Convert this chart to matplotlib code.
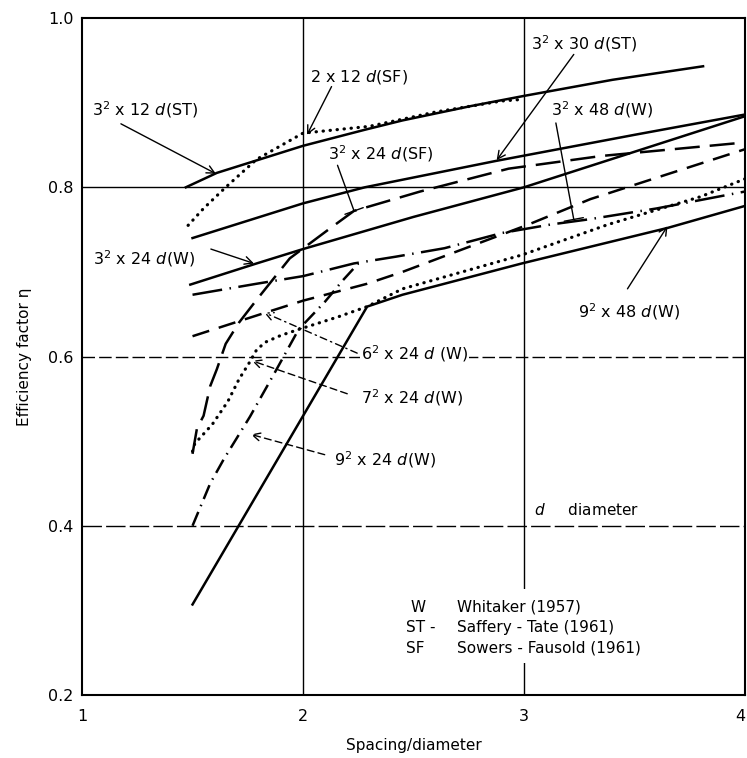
import matplotlib
matplotlib.use("Agg")
import matplotlib.pyplot as plt
from matplotlib.patches import Rectangle

plt.rcParams['font.family'] = ['DejaVu Sans']
plt.rcParams['mathtext.fontset'] = 'dejavusans'

# ---------------- data ----------------
x_st12 = [1.47, 1.61, 2.0, 2.28, 2.45, 2.76, 3.0, 3.4, 3.81]
y_st12 = [0.800, 0.817, 0.849, 0.868, 0.879, 0.896, 0.908, 0.927, 0.943]

x_sf2x12 = [1.48, 1.55, 1.65, 1.79, 2.0, 2.15, 2.3, 2.6, 2.9, 3.0]
y_sf2x12 = [0.755, 0.775, 0.800, 0.833, 0.864, 0.868, 0.872, 0.889, 0.902, 0.904]

x_st30 = [1.5, 2.0, 2.28, 2.87, 3.5, 4.0]
y_st30 = [0.740, 0.781, 0.800, 0.831, 0.862, 0.886]

x_w3x24 = [1.49, 1.79, 2.0, 2.5, 3.0, 3.5, 4.0]
y_w3x24 = [0.685, 0.710, 0.727, 0.765, 0.800, 0.842, 0.884]

x_sf3x24 = [1.5, 1.52, 1.55, 1.58, 1.61, 1.65, 1.71, 1.79, 1.94, 2.12, 2.23, 2.53, 2.93, 3.35, 4.0]
y_sf3x24 = [0.485, 0.515, 0.530, 0.565, 0.585, 0.615, 0.640, 0.667, 0.716, 0.751, 0.772, 0.795, 0.822, 0.837, 0.853]

x_w6x24 = [1.5, 1.82, 2.0, 2.29, 2.45, 3.02, 3.30, 3.62, 4.0]
y_w6x24 = [0.624, 0.651, 0.666, 0.686, 0.700, 0.756, 0.786, 0.813, 0.845]

x_w7x24 = [1.5, 1.51, 1.59, 1.66, 1.71, 1.76, 1.79, 1.83, 1.90, 1.98, 2.16, 2.29, 2.45, 2.99, 3.38, 3.8, 4.0]
y_w7x24 = [0.488, 0.497, 0.520, 0.547, 0.573, 0.594, 0.608, 0.617, 0.625, 0.632, 0.647, 0.659, 0.680, 0.720, 0.756, 0.789, 0.810]

x_w9x24 = [1.5, 1.58, 1.64, 1.76, 1.87, 1.98, 2.10, 2.18, 2.25]
y_w9x24 = [0.400, 0.450, 0.478, 0.529, 0.580, 0.632, 0.665, 0.690, 0.710]

x_w3x48 = [1.5, 1.79, 2.0, 2.23, 2.42, 2.64, 2.90, 3.12, 3.29, 3.6, 4.0]
y_w3x48 = [0.673, 0.686, 0.695, 0.710, 0.718, 0.728, 0.746, 0.756, 0.762, 0.775, 0.795]

x_w9x48 = [1.5, 2.29, 2.45, 2.99, 3.65, 4.0]
y_w9x48 = [0.307, 0.659, 0.673, 0.710, 0.752, 0.778]

x_ticks = [1, 2, 3, 4]
x_ticklabels = ['1', '2', '3', '4']
y_ticks = [0.2, 0.4, 0.6, 0.8, 1.0]
y_ticklabels = ['0.2', '0.4', '0.6', '0.8', '1.0']

legend_codes = ['W', 'ST -', 'SF']
legend_names = ['Whitaker (1957)', 'Saffery - Tate (1961)', 'Sowers - Fausold (1961)']

# ---------------- figure ----------------
fig = plt.figure(figsize=(7.47, 7.58), dpi=100)
ax = fig.add_axes([0.1098, 0.0831, 0.8876, 0.8931])
ax.set_xlim(1, 4)
ax.set_ylim(0.2, 1.0)

for sp in ax.spines.values():
    sp.set_linewidth(1.5)
    sp.set_color('black')

ax.set_xticks(x_ticks)
ax.set_xticklabels(x_ticklabels, fontsize=11.5)
ax.get_xticklabels()[-1].set_ha('right')
ax.set_yticks(y_ticks)
ax.set_yticklabels(y_ticklabels, fontsize=11.5)
ax.tick_params(axis='both', length=0)
ax.tick_params(axis='x', pad=10)
ax.tick_params(axis='y', pad=6)
ax.set_xlabel('Spacing/diameter', fontsize=11, labelpad=10)
ax.set_ylabel('Efficiency factor η', fontsize=11, labelpad=12)

# grid lines
gk = dict(color='black', lw=1.0, zorder=1)
ax.axvline(2, **gk)
ax.axvline(3, **gk)
ax.axhline(0.8, **gk)
ax.axhline(0.6, dashes=(9, 3), **gk)
ax.axhline(0.4, dashes=(14, 3), **gk)

# white patch behind the legend text
ax.add_patch(Rectangle((2.42, 0.238), 1.3, 0.087, facecolor='white',
                       edgecolor='none', zorder=1.5))

LW = 1.8
ax.plot(x_st12, y_st12, color='black', lw=LW, zorder=3)
ax.plot(x_sf2x12, y_sf2x12, color='black', lw=2.3, dashes=(0.1, 2.1),
        dash_capstyle='round', zorder=3)
ax.plot(x_st30, y_st30, color='black', lw=LW, zorder=3)
ax.plot(x_w3x24, y_w3x24, color='black', lw=LW, zorder=3)
ax.plot(x_sf3x24, y_sf3x24, color='black', lw=LW, dashes=(10, 4), zorder=3)
ax.plot(x_w6x24, y_w6x24, color='black', lw=LW, dashes=(7, 4), zorder=3)
ax.plot(x_w7x24, y_w7x24, color='black', lw=2.3, dashes=(0.1, 2.1),
        dash_capstyle='round', zorder=3)
ax.plot(x_w9x24, y_w9x24, color='black', lw=LW, dashes=(6, 2.5, 0.6, 2.5), zorder=3)
ax.plot(x_w3x48, y_w3x48, color='black', lw=LW, dashes=(12, 3, 0.6, 3), zorder=3)
ax.plot(x_w9x48, y_w9x48, color='black', lw=LW, zorder=3)

# ---------------- annotations ----------------
FS = 11.5
def label(x, y, s, fs=FS, **kw):
    ax.text(x, y, s, fontsize=fs, ha='left', va='center', zorder=5, **kw)

def arrow(tail, tip, style='->', ls='-'):
    ax.annotate('', xy=tip, xytext=tail,
                arrowprops=dict(arrowstyle=style, lw=1.0, color='black',
                                shrinkA=0, shrinkB=0, mutation_scale=14,
                                linestyle=ls), zorder=4)

label(1.046, 0.892, r'$3^2$ x 12 $d$(ST)')
arrow((1.176, 0.875), (1.606, 0.816))

label(2.031, 0.930, r'2 x 12 $d$(SF)')
arrow((2.129, 0.919), (2.018, 0.862))

label(2.111, 0.840, r'$3^2$ x 24 $d$(SF)')
arrow((2.156, 0.826), (2.231, 0.772), style='-[, widthB=0.5, lengthB=0')

label(3.032, 0.970, r'$3^2$ x 30 $d$(ST)')
arrow((3.225, 0.957), (2.876, 0.832))

label(3.122, 0.892, r'$3^2$ x 48 $d$(W)')
arrow((3.144, 0.876), (3.225, 0.762), style='-[, widthB=0.5, lengthB=0')

label(1.051, 0.716, r'$3^2$ x 24 $d$(W)')
arrow((1.583, 0.727), (1.778, 0.710))

label(2.262, 0.603, r'$6^2$ x 24 $d$ (W)',
      bbox=dict(facecolor='white', edgecolor='none', pad=0.5))
arrow((2.245, 0.604), (1.824, 0.652), ls=(0, (5, 3, 1, 3)))

label(2.262, 0.551, r'$7^2$ x 24 $d$(W)')
arrow((2.200, 0.556), (1.769, 0.595), ls=(0, (5, 3)))

label(2.142, 0.478, r'$9^2$ x 24 $d$(W)')
arrow((2.098, 0.484), (1.764, 0.508), ls=(0, (5, 3)))

label(3.243, 0.653, r'$9^2$ x 48 $d$(W)')
arrow((3.468, 0.680), (3.649, 0.754))

label(3.045, 0.419, r'$d$     diameter', fs=11)

for i, (c, n) in enumerate(zip(legend_codes, legend_names)):
    y = 0.304 - i * 0.0245
    label(2.467 if c != 'W' else 2.484, y, c, fs=11)
    label(2.698, y, n, fs=11)

fig.savefig('out.png', dpi=100)
